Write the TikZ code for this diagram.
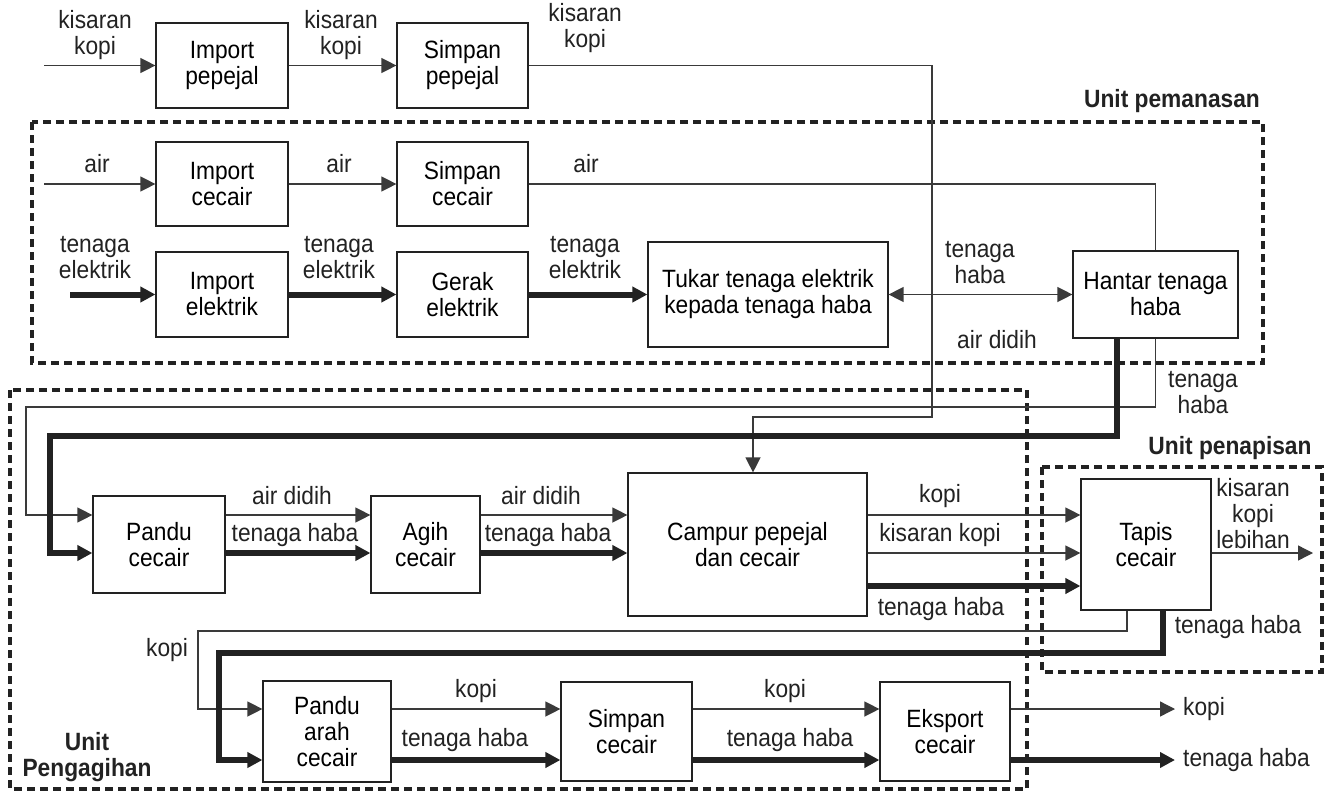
\documentclass[tikz,border=0pt]{standalone}
\usepackage{fontspec}
\setmainfont{Liberation Sans}[FakeStretch=0.91]
\usetikzlibrary{arrows.meta}
\definecolor{ln}{HTML}{222222}
\definecolor{tl}{HTML}{3a3a3a}
\newcommand{\fs}{\fontsize{25}{26}\selectfont}
\tikzset{
  box/.style={draw=ln, line width=1.2pt, fill=white, inner sep=0pt, align=center, font=\fs},
  lbl/.style={align=center, inner sep=0pt, font=\fs, text=ln},
  ulbl/.style={align=center, inner sep=0pt, font=\fs\bfseries, text=ln},
  thinflow/.style={draw=tl, line width=1.3pt},
  thickflow/.style={draw=ln, line width=6pt, line join=miter},
  tip/.style={-{Triangle[length=15pt,width=15pt]}},
  dtip/.style={{Triangle[length=15pt,width=15pt]}-{Triangle[length=15pt,width=15pt]}},
  unitbox/.style={draw=ln, line width=4pt, dash pattern=on 8pt off 5pt}
}
\begin{document}
\begin{tikzpicture}[x=1pt,y=-1pt]
\useasboundingbox[fill=white] (0,0) rectangle (1324,792);

% unit boundaries
\draw[unitbox] (32,122) rectangle (1263,363);
\draw[unitbox] (10,390) rectangle (1027,789);
\draw[unitbox] (1042,467) rectangle (1322,672);
\node[ulbl] (uheat) at (1172,101) {Unit pemanasan};
\node[ulbl] (ufilt) at (1230,448) {Unit penapisan};
\node[ulbl] (udist) at (87,757) {Unit\\Pengagihan};

% boxes
\node[box, minimum width=132pt, minimum height=85pt] (IP) at (222,65.5) {Import\\pepejal};
\node[box, minimum width=131pt, minimum height=85pt] (SP) at (462.5,65.5) {Simpan\\pepejal};
\node[box, minimum width=132pt, minimum height=84pt] (IC) at (222,184) {Import\\cecair};
\node[box, minimum width=131pt, minimum height=84pt] (SC) at (462.5,184) {Simpan\\cecair};
\node[box, minimum width=132pt, minimum height=85pt] (IE) at (222,294.5) {Import\\elektrik};
\node[box, minimum width=131pt, minimum height=85pt] (GE) at (462.5,294.5) {Gerak\\elektrik};
\node[box, minimum width=240pt, minimum height=105pt] (TK) at (768,294.5) {Tukar tenaga elektrik\\kepada tenaga haba};
\node[box, minimum width=165pt, minimum height=87pt] (HT) at (1155.5,294.5) {Hantar tenaga\\haba};
\node[box, minimum width=132pt, minimum height=97pt] (PC) at (159,544.5) {Pandu\\cecair};
\node[box, minimum width=109pt, minimum height=97pt] (AC) at (425.5,544.5) {Agih\\cecair};
\node[box, minimum width=239pt, minimum height=143pt] (CP) at (747.5,544.5) {Campur pepejal\\dan cecair};
\node[box, minimum width=130pt, minimum height=131pt] (TP) at (1146,544.5) {Tapis\\cecair};
\node[box, minimum width=128pt, minimum height=101pt] (PA) at (327,731.5) {Pandu\\arah\\cecair};
\node[box, minimum width=131pt, minimum height=99pt] (S2) at (626.5,731.5) {Simpan\\cecair};
\node[box, minimum width=130pt, minimum height=99pt] (EC) at (945,731.5) {Eksport\\cecair};

% coordinates
\coordinate (a0) at (44,65.5);
\coordinate (b0) at (44,184);
\coordinate (c0) at (70,294.5);
\coordinate (k1) at (932,65.5);
\coordinate (k2) at (932,417);
\coordinate (k3) at (753,417);
\coordinate (d1) at (1155.5,407);
\coordinate (d2) at (26,407);
\coordinate (d3) at (26,515);
\coordinate (t1) at (1117,436);
\coordinate (t2) at (50,436);
\coordinate (t3) at (50,553);
\coordinate (r1) at (0,515);
\coordinate (r2) at (0,553);
\coordinate (r3) at (0,586);
\coordinate (o1) at (1313,553);
\coordinate (f1) at (1127,631);
\coordinate (f2) at (198,631);
\coordinate (f3) at (198,709);
\coordinate (g1) at (1163,653);
\coordinate (g2) at (219,653);
\coordinate (g3) at (219,760);
\coordinate (r4) at (0,709);
\coordinate (r5) at (0,760);
\coordinate (e1) at (1175,709);
\coordinate (e2) at (1175,760);

% top row
\draw[thinflow,tip] (a0) -- (IP.west);
\draw[thinflow,tip] (IP.east) -- (SP.west);
\draw[thinflow,tip] (SP.east) -- (k1) -- (k2) -- (k3) -- (k3 |- CP.north);
% air row
\draw[thinflow,tip] (b0) -- (IC.west);
\draw[thinflow,tip] (IC.east) -- (SC.west);
\draw[thinflow] (SC.east) -- (SC.east -| HT.north) -- (HT.north);
% electric row
\draw[thickflow,tip] (c0) -- (IE.west);
\draw[thickflow,tip] (IE.east) -- (GE.west);
\draw[thickflow,tip] (GE.east) -- (TK.west);
\draw[thinflow,dtip] (TK.east) -- (HT.west);
% from Hantar
\draw[thinflow,tip] (HT.south) -- (d1) -- (d2) -- (d3) -- (d3 -| PC.west);
\draw[thickflow,tip] (t1 |- HT.south) -- (t1) -- (t2) -- (t3) -- (t3 -| PC.west);
% middle row
\draw[thinflow,tip] (PC.east |- r1) -- (AC.west |- r1);
\draw[thickflow,tip] (PC.east |- r2) -- (AC.west |- r2);
\draw[thinflow,tip] (AC.east |- r1) -- (CP.west |- r1);
\draw[thickflow,tip] (AC.east |- r2) -- (CP.west |- r2);
\draw[thinflow,tip] (CP.east |- r1) -- (TP.west |- r1);
\draw[thinflow,tip] (CP.east |- r2) -- (TP.west |- r2);
\draw[thickflow,tip] (CP.east |- r3) -- (TP.west |- r3);
\draw[thinflow,tip] (TP.east |- o1) -- (o1);
% from Tapis
\draw[thinflow,tip] (f1 |- TP.south) -- (f1) -- (f2) -- (f3) -- (f3 -| PA.west);
\draw[thickflow,tip] (g1 |- TP.south) -- (g1) -- (g2) -- (g3) -- (g3 -| PA.west);
% bottom row
\draw[thinflow,tip] (PA.east |- r4) -- (S2.west |- r4);
\draw[thickflow,tip] (PA.east |- r5) -- (S2.west |- r5);
\draw[thinflow,tip] (S2.east |- r4) -- (EC.west |- r4);
\draw[thickflow,tip] (S2.east |- r5) -- (EC.west |- r5);
\draw[thinflow,tip] (EC.east |- e1) -- (e1);
\draw[thickflow,tip] (EC.east |- e2) -- (e2);

% labels
\node[lbl] (l1) at (95,35) {kisaran\\kopi};
\node[lbl] (l2) at (341,35) {kisaran\\kopi};
\node[lbl] (l3) at (585,28) {kisaran\\kopi};
\node[lbl] (l4) at (97,164) {air};
\node[lbl] (l5) at (339,164) {air};
\node[lbl] (l6) at (586,164) {air};
\node[lbl] (l7) at (95,258) {tenaga\\elektrik};
\node[lbl] (l8) at (339,258) {tenaga\\elektrik};
\node[lbl] (l9) at (585,258) {tenaga\\elektrik};
\node[lbl] (l10) at (980,263) {tenaga\\haba};
\node[lbl] (l11) at (997,340) {air didih};
\node[lbl] (l12) at (1203,393) {tenaga\\haba};
\node[lbl] (l13) at (292,496) {air didih};
\node[lbl] (l14) at (295,535) {tenaga haba};
\node[lbl] (l15) at (541,496) {air didih};
\node[lbl] (l16) at (548,535) {tenaga haba};
\node[lbl] (l17) at (940,496) {kopi};
\node[lbl] (l18) at (940,535) {kisaran kopi};
\node[lbl] (l19) at (941,609) {tenaga haba};
\node[lbl] (l20) at (1253,514) {kisaran\\kopi\\lebihan};
\node[lbl] (l21) at (1238,627) {tenaga haba};
\node[lbl] (l22) at (167,650) {kopi};
\node[lbl] (l23) at (476,691) {kopi};
\node[lbl] (l24) at (465,740) {tenaga haba};
\node[lbl] (l25) at (785,691) {kopi};
\node[lbl] (l26) at (790,740) {tenaga haba};
\node[lbl, anchor=west] (l27) at (1183,709) {kopi};
\node[lbl, anchor=west] (l28) at (1183,760) {tenaga haba};
\end{tikzpicture}
\end{document}
